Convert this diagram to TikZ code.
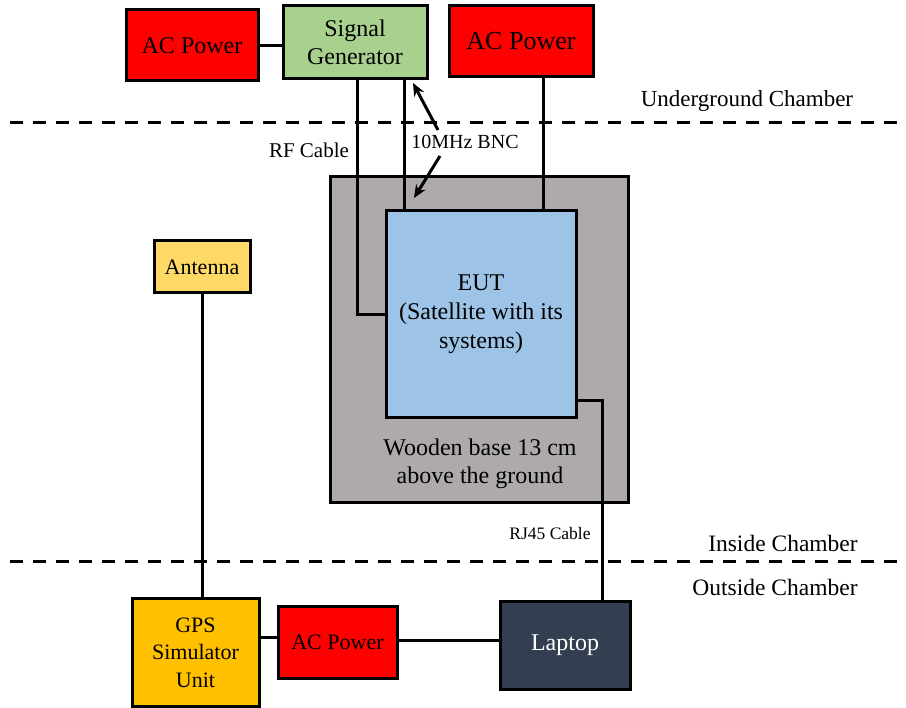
\documentclass[tikz,border=0pt]{standalone}
\usepackage{fontspec}
\setmainfont{Liberation Serif}
\usetikzlibrary{arrows.meta,calc}
\definecolor{acred}{HTML}{FF0000}
\definecolor{sggreen}{HTML}{A9D18E}
\definecolor{antyel}{HTML}{FFD966}
\definecolor{gpsorange}{HTML}{FFC000}
\definecolor{basegray}{HTML}{AEAAAA}
\definecolor{eutblue}{HTML}{9DC3E6}
\definecolor{lapdark}{HTML}{333F50}
\tikzset{
  box/.style={draw=black,line width=3pt,rectangle,inner sep=0pt,align=center},
  wire/.style={draw=black,line width=3pt},
  sep/.style={draw=black,line width=3pt,dash pattern=on 13pt off 10pt},
  lbl/.style={inner sep=0pt,align=center},
}
\begin{document}
\begin{tikzpicture}[x=1pt,y=-1pt]
\useasboundingbox (0,0) rectangle (906,708);
% separators
\draw[sep] (10,123) -- (906,123);
\draw[sep] (10,562) -- (906,562);
% top boxes
\node[box,fill=acred,minimum width=132pt,minimum height=71pt,font=\fontsize{24}{28}\selectfont] (ac1) at (192,45.5) {AC Power};
\node[box,fill=sggreen,minimum width=144pt,minimum height=73pt,font=\fontsize{24}{28.5}\selectfont] (sg) at (355,42.5) {Signal\\Generator};
\node[box,fill=acred,minimum width=144pt,minimum height=71pt,font=\fontsize{26}{30}\selectfont] (ac2) at (521,41.5) {AC Power};
% base and EUT
\node[box,fill=basegray,minimum width=298pt,minimum height=326pt] (base) at (479,340) {};
\node[box,fill=eutblue,minimum width=190pt,minimum height=207pt,font=\fontsize{24}{29}\selectfont] (eut) at (481,314.5) {EUT\\(Satellite with its\\systems)};
\node[lbl,font=\fontsize{24}{28}\selectfont] (basetxt) at (480,464) {Wooden base 13 cm\\above the ground};
% antenna and bottom boxes
\node[box,fill=antyel,minimum width=96pt,minimum height=52pt,font=\fontsize{22}{26}\selectfont] (ant) at (202,267) {Antenna};
\node[box,fill=gpsorange,minimum width=127pt,minimum height=107pt,font=\fontsize{22}{27.5}\selectfont] (gps) at (195.5,652.5) {GPS\\Simulator\\Unit};
\node[box,fill=acred,minimum width=119pt,minimum height=71pt,font=\fontsize{22}{26}\selectfont] (ac3) at (337.5,642.5) {AC Power};
\node[box,fill=lapdark,text=white,minimum width=130pt,minimum height=87pt,font=\fontsize{24}{28}\selectfont] (lap) at (565,645.5) {Laptop};
% labels
\node[lbl,font=\fontsize{23}{27}\selectfont] (ug) at (747,101) {Underground Chamber};
\node[lbl,font=\fontsize{23.5}{27}\selectfont] (ins) at (783,543) {Inside Chamber};
\node[lbl,font=\fontsize{23.5}{27}\selectfont] (outs) at (775,587) {Outside Chamber};
\node[lbl,font=\fontsize{21}{25}\selectfont] (rf) at (309,150) {RF Cable};
\node[lbl,font=\fontsize{20}{24}\selectfont] (bnc) at (465,142) {10MHz BNC};
\node[lbl,font=\fontsize{17.5}{21}\selectfont] (rj) at (550,534) {RJ45 Cable};
% connectors
\coordinate (rfx) at (357,0);
\coordinate (bncx) at (404,0);
\coordinate (acx) at (543,0);
\coordinate (rjy) at (0,401);
\coordinate (rjx) at (602,0);
\draw[wire] (ac1.east) -- (ac1.east -| sg.west);
\draw[wire] (sg.south -| rfx) |- (eut.west);
\draw[wire] (sg.south -| bncx) -- (eut.north -| bncx);
\draw[wire] (ac2.south -| acx) -- (eut.north -| acx);
\draw[wire] (eut.east |- rjy) -| (lap.north -| rjx);
\draw[wire] (ant.south) -- (gps.north -| ant.south);
\draw[wire] (gps.east |- 0,638) -- (ac3.west |- 0,638);
\draw[wire] (ac3.east |- 0,641) -- (lap.west |- 0,641);
% BNC arrows
\coordinate (a1s) at (438,130);
\coordinate (a1e) at (413,83);
\coordinate (a2s) at (440,156);
\coordinate (a2e) at (414,198);
\draw[wire,-{Stealth[length=13pt,width=11pt]}] (a1s) -- (a1e);
\draw[wire,-{Stealth[length=13pt,width=11pt]}] (a2s) -- (a2e);
\end{tikzpicture}
\end{document}
